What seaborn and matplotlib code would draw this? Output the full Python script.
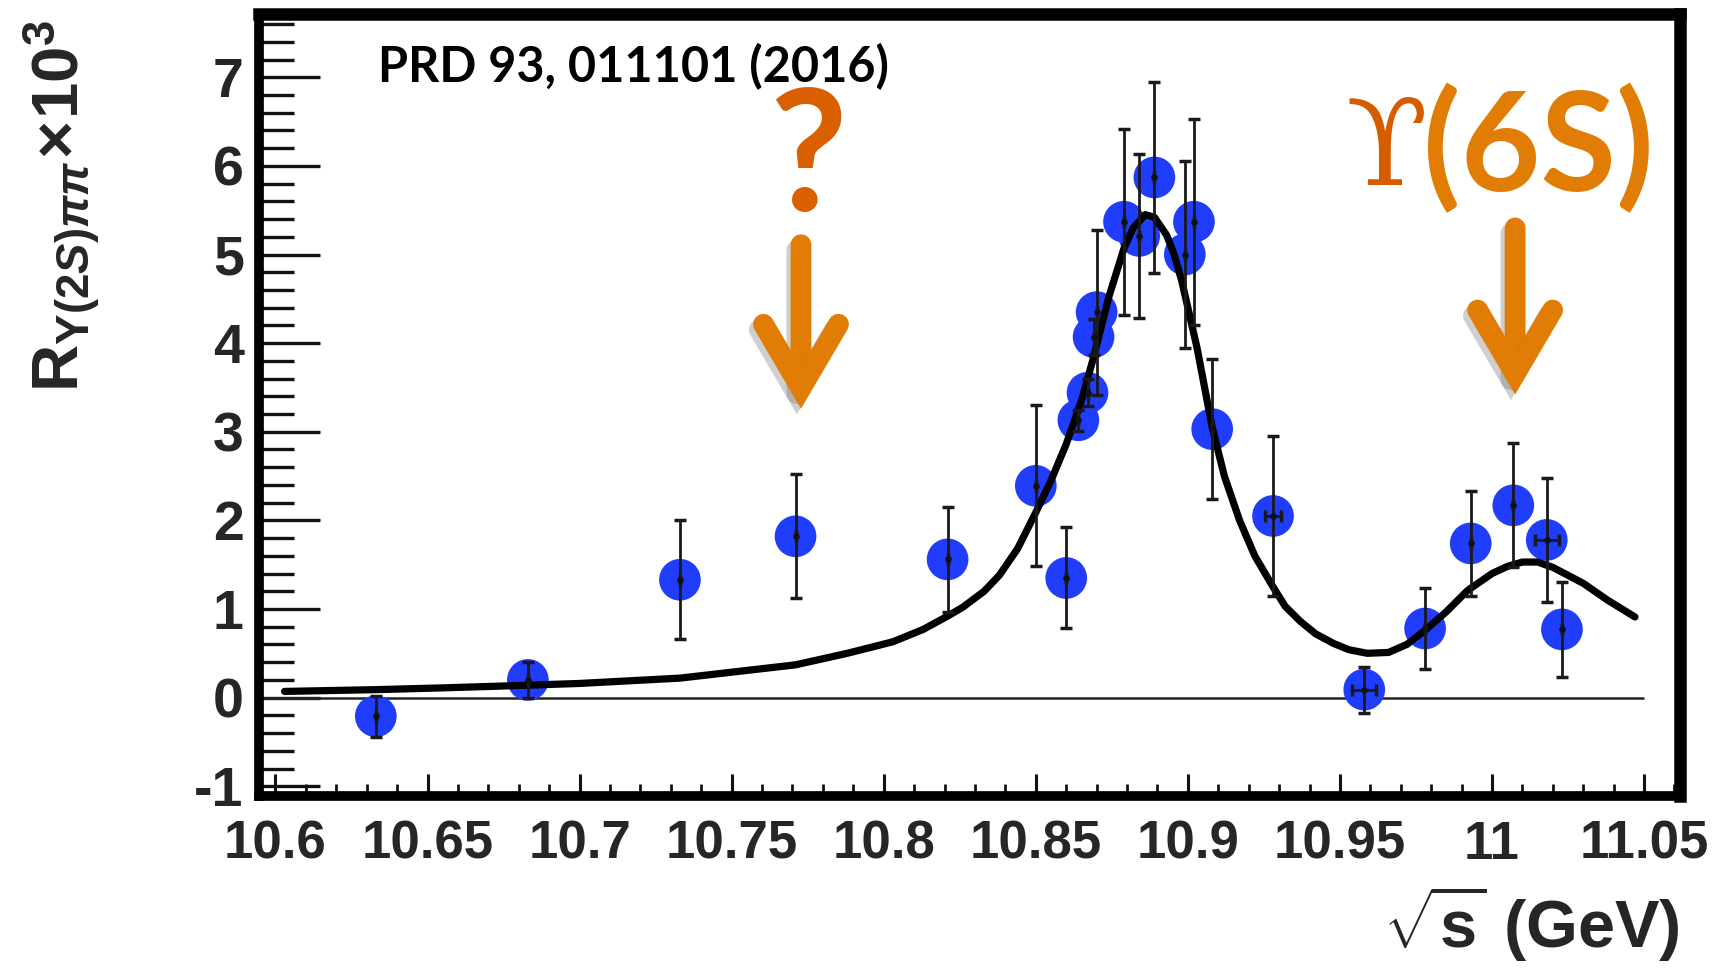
import matplotlib
matplotlib.use("Agg")
import matplotlib.pyplot as plt
import matplotlib.patheffects as pe
from matplotlib.ticker import MultipleLocator, FixedLocator, FixedFormatter
import seaborn as sns
import pandas as pd

# ---------------- data ----------------
sqrt_s = [10.633, 10.683, 10.733, 10.771, 10.821, 10.850, 10.860, 10.864,
          10.867, 10.869, 10.870, 10.879, 10.884, 10.889, 10.899, 10.902,
          10.908, 10.928, 10.958, 10.978, 10.993, 11.007, 11.018, 11.023]
ratio = [-0.21, 0.20, 1.33, 1.82, 1.56, 2.39, 1.35, 3.13,
         3.44, 4.07, 4.35, 5.37, 5.21, 5.87, 5.00, 5.37,
         3.03, 2.05, 0.09, 0.78, 1.74, 2.17, 1.78, 0.77]
ratio_err = [0.23, 0.20, 0.67, 0.70, 0.59, 0.91, 0.57, 0.12,
             0.15, 0.20, 0.93, 1.05, 0.93, 1.08, 1.06, 1.16,
             0.79, 0.90, 0.26, 0.46, 0.59, 0.70, 0.70, 0.54]
sqrt_s_err = [0, 0, 0, 0, 0, 0, 0, 0,
              0, 0, 0, 0, 0, 0, 0, 0,
              0, 0.0025, 0.004, 0, 0, 0, 0.004, 0]

fit_x = [10.603, 10.633, 10.655, 10.674, 10.700, 10.733, 10.771, 10.788, 10.803,
         10.813, 10.821, 10.826, 10.833, 10.838, 10.844, 10.850, 10.855, 10.860,
         10.865, 10.869, 10.874, 10.879, 10.882, 10.886, 10.889, 10.893, 10.8955,
         10.898, 10.903, 10.908, 10.912, 10.917, 10.922, 10.928, 10.932, 10.937,
         10.942, 10.948, 10.953, 10.959, 10.966, 10.972, 10.978, 10.985, 10.992,
         11.000, 11.005, 11.010, 11.015, 11.020, 11.030, 11.038, 11.047]
fit_y = [0.07, 0.09, 0.11, 0.13, 0.16, 0.22, 0.37, 0.50, 0.63,
         0.77, 0.92, 1.02, 1.20, 1.38, 1.68, 2.09, 2.45, 2.86,
         3.35, 3.84, 4.52, 5.07, 5.30, 5.45, 5.42, 5.22, 5.00,
         4.70, 3.95, 3.05, 2.50, 2.00, 1.60, 1.25, 1.03, 0.86,
         0.72, 0.61, 0.54, 0.50, 0.51, 0.60, 0.76, 0.97, 1.21,
         1.40, 1.48, 1.53, 1.53, 1.47, 1.29, 1.10, 0.91]

x_ticks = [10.6, 10.65, 10.7, 10.75, 10.8, 10.85, 10.9, 10.95, 11.0, 11.05]
x_tick_labels = ["10.6", "10.65", "10.7", "10.75", "10.8", "10.85", "10.9",
                 "10.95", "11", "11.05"]
y_ticks = [-1, 0, 1, 2, 3, 4, 5, 6, 7]
y_tick_labels = ["-1", "0", "1", "2", "3", "4", "5", "6", "7"]

ref_text = "PRD 93, 011101 (2016)"
question_text = "?"
upsilon_text = "\u03d2"
state_text = "(6S)"

# ---------------- style ----------------
sns.set_theme(style="white")
sans = ["Liberation Sans", "DejaVu Sans"]
plt.rcParams["font.family"] = sans
plt.rcParams["font.weight"] = "bold"
plt.rcParams["mathtext.fontset"] = "custom"
plt.rcParams["mathtext.rm"] = "Liberation Sans"
plt.rcParams["mathtext.bf"] = "Liberation Sans:bold"
plt.rcParams["mathtext.it"] = "Liberation Sans:italic"

BLUE = "#213DFC"
ORANGE_Q = "#D95F00"
ORANGE_A = "#E17D05"
ORANGE_U = "#D65C00"

fig = plt.figure(figsize=(17.28, 9.68), dpi=100)
fig.patch.set_facecolor("white")
ax = fig.add_axes([0.1499, 0.1777, 0.8223, 0.8079])
ax.set_facecolor("white")

XMIN, XMAX = 10.5946, 11.0618
YMIN, YMAX = -1.11, 7.715

# zero reference line
ax.hlines(0, XMIN, 11.05, color="#222222", lw=1.8, zorder=2)

# fit curve
fit_df = pd.DataFrame({"x": fit_x, "y": fit_y})
sns.lineplot(data=fit_df, x="x", y="y", ax=ax, color="black", lw=5.2,
             sort=False, estimator=None, zorder=4)
ax.lines[-1].set_solid_joinstyle("round")

# data points
pts = pd.DataFrame({"x": sqrt_s, "y": ratio})
sns.scatterplot(data=pts, x="x", y="y", ax=ax, s=900, color=BLUE,
                edgecolor="none", zorder=3)
ax.errorbar(sqrt_s, ratio, yerr=ratio_err, xerr=sqrt_s_err, fmt="none",
            ecolor="#1a1a1a", elinewidth=2.0, capsize=4.5, capthick=2.5,
            zorder=5)
ax.scatter(sqrt_s, ratio, s=14, color="#111111", zorder=6)

ax.set_xlim(XMIN, XMAX)
ax.set_ylim(YMIN, YMAX)

# ticks
ax.xaxis.set_major_locator(FixedLocator(x_ticks))
ax.xaxis.set_major_formatter(FixedFormatter(x_tick_labels))
ax.xaxis.set_minor_locator(MultipleLocator(0.01))
ax.yaxis.set_major_locator(FixedLocator(y_ticks))
ax.yaxis.set_major_formatter(FixedFormatter(y_tick_labels))
ax.yaxis.set_minor_locator(MultipleLocator(0.2))

ax.tick_params(axis="x", which="major", direction="in", length=16, width=2.2,
               color="#111111", labelsize=38, pad=17, bottom=True, top=False)
ax.tick_params(axis="x", which="minor", direction="in", length=8.5, width=2.0,
               color="#111111", bottom=True, top=False)
ax.tick_params(axis="y", which="major", direction="in", length=44, width=2.4,
               color="#111111", labelsize=40, pad=11, left=True, right=False)
ax.tick_params(axis="y", which="minor", direction="in", length=25, width=2.4,
               color="#111111", left=True, right=False)
for lab in ax.get_xticklabels() + ax.get_yticklabels():
    lab.set_fontweight("bold")

for side in ["left", "bottom"]:
    ax.spines[side].set_linewidth(7)
for side in ["top", "right"]:
    ax.spines[side].set_linewidth(9)
for s in ax.spines.values():
    s.set_color("black")
    s.set_visible(True)

# axis labels
ax.set_xlabel(r"$\sqrt{\mathbf{s}}$ (GeV)", fontsize=48, fontweight="bold",
              loc="right", labelpad=10)
ax.set_ylabel("")
fig.text(0.036, 0.979,
         r"$\mathbf{R}_{\Upsilon(2S)\pi\pi}\!\times\!\mathbf{10}^{\mathbf{3}}$",
         rotation=90, ha="center", va="top", fontsize=47)

# annotations
ax.text(10.6337, 6.95, ref_text, fontsize=35, fontweight="bold",
        family=["Lato", "Open Sans", "DejaVu Sans"], color="black",
        ha="left", va="baseline", zorder=7)
ax.text(10.7752, 5.49, question_text, fontsize=122, fontweight="bold",
        family=["Lato", "Open Sans", "DejaVu Sans"], color=ORANGE_Q,
        ha="center", va="baseline", zorder=7)
ax.text(10.9772, 5.72, state_text, fontsize=99, fontweight="bold",
        family=["Lato", "Open Sans", "DejaVu Sans"], color=ORANGE_A,
        ha="left", va="baseline", zorder=7)
ax.text(10.9788, 5.78, upsilon_text, fontsize=86, fontweight="normal",
        family=["DejaVu Serif", "DejaVu Sans"], color=ORANGE_U,
        ha="right", va="baseline", zorder=7)

shadow = [pe.Stroke(offset=(-3, -4), foreground="#777777", alpha=0.35),
          pe.Normal()]
for ax_x, top, tip in [(10.7728, 5.11, 3.26), (11.0076, 5.30, 3.42)]:
    ax.annotate("", xy=(ax_x, tip), xytext=(ax_x, top), xycoords="data",
                arrowprops=dict(arrowstyle="->,head_length=4.6,head_width=2.7",
                                lw=15, color=ORANGE_A, shrinkA=0, shrinkB=0,
                                mutation_scale=10, capstyle="round",
                                joinstyle="miter",
                                path_effects=shadow),
                zorder=7)

fig.savefig("out.png", dpi=100, facecolor="white")
